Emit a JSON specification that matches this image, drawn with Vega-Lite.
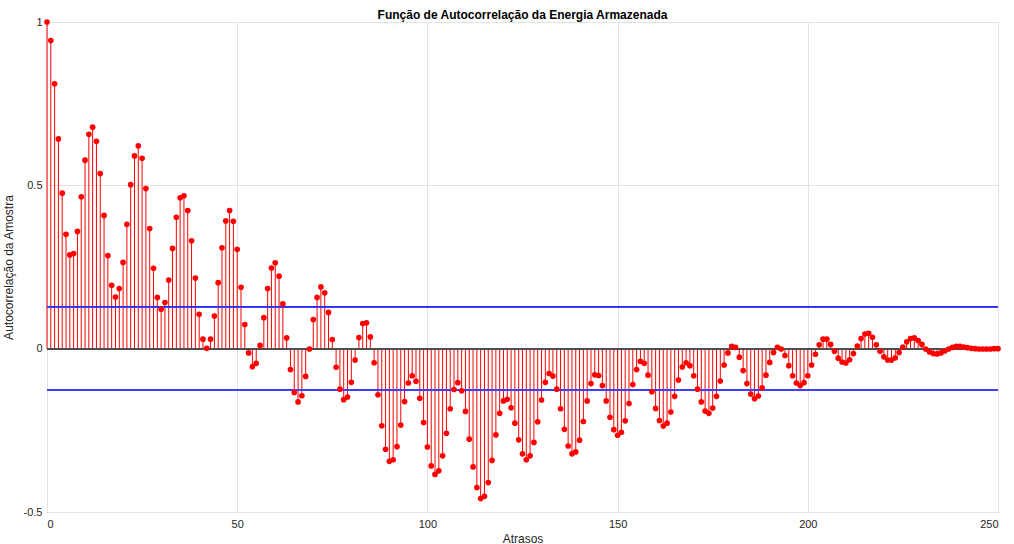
{
  "$schema": "https://vega.github.io/schema/vega-lite/v6.json",
  "width": 951,
  "height": 490,
  "autosize": "none",
  "padding": {"left": 47, "top": 22, "right": 16, "bottom": 32},
  "background": "white",
  "config": {
    "font": "Liberation Sans",
    "view": {"stroke": "#404040", "strokeWidth": 1},
    "axis": {"domain": false, "ticks": false, "gridColor": "#e3e3e3", "gridWidth": 1, "labelFont": "Liberation Sans", "labelFontSize": 11, "labelColor": "#262626", "titleFont": "Liberation Sans", "titleFontSize": 12, "titleFontWeight": "normal", "titleColor": "#262626"}
  },
  "title": {"text": "Função de Autocorrelação da Energia Armazenada", "fontSize": 12, "fontWeight": "bold", "color": "#000000", "anchor": "middle", "offset": 0, "dy": 6, "font": "Liberation Sans"},
  "data": {"values": [
{"l":0,"v":1.0},{"l":1,"v":0.943},{"l":2,"v":0.811},{"l":3,"v":0.642},{"l":4,"v":0.476},{"l":5,"v":0.350},{"l":6,"v":0.287},{"l":7,"v":0.291},{"l":8,"v":0.359},{"l":9,"v":0.465},
{"l":10,"v":0.577},{"l":11,"v":0.656},{"l":12,"v":0.678},{"l":13,"v":0.635},{"l":14,"v":0.536},{"l":15,"v":0.408},{"l":16,"v":0.285},{"l":17,"v":0.194},{"l":18,"v":0.158},{"l":19,"v":0.184},
{"l":20,"v":0.264},{"l":21,"v":0.381},{"l":22,"v":0.502},{"l":23,"v":0.590},{"l":24,"v":0.621},{"l":25,"v":0.583},{"l":26,"v":0.490},{"l":27,"v":0.368},{"l":28,"v":0.246},{"l":29,"v":0.157},
{"l":30,"v":0.121},{"l":31,"v":0.141},{"l":32,"v":0.210},{"l":33,"v":0.307},{"l":34,"v":0.402},{"l":35,"v":0.462},{"l":36,"v":0.468},{"l":37,"v":0.423},{"l":38,"v":0.330},{"l":39,"v":0.216},
{"l":40,"v":0.105},{"l":41,"v":0.029},{"l":42,"v":0.001},{"l":43,"v":0.029},{"l":44,"v":0.100},{"l":45,"v":0.202},{"l":46,"v":0.309},{"l":47,"v":0.391},{"l":48,"v":0.423},{"l":49,"v":0.390},
{"l":50,"v":0.304},{"l":51,"v":0.188},{"l":52,"v":0.074},{"l":53,"v":-0.013},{"l":54,"v":-0.055},{"l":55,"v":-0.045},{"l":56,"v":0.010},{"l":57,"v":0.095},{"l":58,"v":0.184},{"l":59,"v":0.247},
{"l":60,"v":0.263},{"l":61,"v":0.222},{"l":62,"v":0.137},{"l":63,"v":0.033},{"l":64,"v":-0.064},{"l":65,"v":-0.134},{"l":66,"v":-0.163},{"l":67,"v":-0.144},{"l":68,"v":-0.085},{"l":69,"v":-0.001},
{"l":70,"v":0.089},{"l":71,"v":0.157},{"l":72,"v":0.189},{"l":73,"v":0.171},{"l":74,"v":0.111},{"l":75,"v":0.028},{"l":76,"v":-0.057},{"l":77,"v":-0.124},{"l":78,"v":-0.156},{"l":79,"v":-0.148},
{"l":80,"v":-0.103},{"l":81,"v":-0.035},{"l":82,"v":0.034},{"l":83,"v":0.077},{"l":84,"v":0.079},{"l":85,"v":0.036},{"l":86,"v":-0.043},{"l":87,"v":-0.141},{"l":88,"v":-0.236},{"l":89,"v":-0.308},
{"l":90,"v":-0.345},{"l":91,"v":-0.340},{"l":92,"v":-0.300},{"l":93,"v":-0.234},{"l":94,"v":-0.162},{"l":95,"v":-0.105},{"l":96,"v":-0.083},{"l":97,"v":-0.100},{"l":98,"v":-0.152},{"l":99,"v":-0.226},
{"l":100,"v":-0.301},{"l":101,"v":-0.359},{"l":102,"v":-0.385},{"l":103,"v":-0.374},{"l":104,"v":-0.328},{"l":105,"v":-0.259},{"l":106,"v":-0.184},{"l":107,"v":-0.125},{"l":108,"v":-0.104},{"l":109,"v":-0.129},
{"l":110,"v":-0.192},{"l":111,"v":-0.277},{"l":112,"v":-0.362},{"l":113,"v":-0.425},{"l":114,"v":-0.459},{"l":115,"v":-0.452},{"l":116,"v":-0.410},{"l":117,"v":-0.342},{"l":118,"v":-0.264},{"l":119,"v":-0.198},
{"l":120,"v":-0.160},{"l":121,"v":-0.155},{"l":122,"v":-0.181},{"l":123,"v":-0.228},{"l":124,"v":-0.279},{"l":125,"v":-0.322},{"l":126,"v":-0.340},{"l":127,"v":-0.328},{"l":128,"v":-0.287},{"l":129,"v":-0.224},
{"l":130,"v":-0.157},{"l":131,"v":-0.103},{"l":132,"v":-0.076},{"l":133,"v":-0.084},{"l":134,"v":-0.124},{"l":135,"v":-0.184},{"l":136,"v":-0.247},{"l":137,"v":-0.298},{"l":138,"v":-0.322},{"l":139,"v":-0.316},
{"l":140,"v":-0.280},{"l":141,"v":-0.223},{"l":142,"v":-0.160},{"l":143,"v":-0.107},{"l":144,"v":-0.080},{"l":145,"v":-0.082},{"l":146,"v":-0.113},{"l":147,"v":-0.160},{"l":148,"v":-0.210},{"l":149,"v":-0.248},
{"l":150,"v":-0.265},{"l":151,"v":-0.256},{"l":152,"v":-0.221},{"l":153,"v":-0.168},{"l":154,"v":-0.110},{"l":155,"v":-0.064},{"l":156,"v":-0.039},{"l":157,"v":-0.045},{"l":158,"v":-0.081},{"l":159,"v":-0.132},
{"l":160,"v":-0.183},{"l":161,"v":-0.220},{"l":162,"v":-0.237},{"l":163,"v":-0.228},{"l":164,"v":-0.194},{"l":165,"v":-0.146},{"l":166,"v":-0.096},{"l":167,"v":-0.056},{"l":168,"v":-0.043},{"l":169,"v":-0.052},
{"l":170,"v":-0.083},{"l":171,"v":-0.124},{"l":172,"v":-0.163},{"l":173,"v":-0.191},{"l":174,"v":-0.198},{"l":175,"v":-0.182},{"l":176,"v":-0.146},{"l":177,"v":-0.099},{"l":178,"v":-0.050},{"l":179,"v":-0.013},
{"l":180,"v":0.007},{"l":181,"v":0.004},{"l":182,"v":-0.026},{"l":183,"v":-0.067},{"l":184,"v":-0.107},{"l":185,"v":-0.139},{"l":186,"v":-0.153},{"l":187,"v":-0.145},{"l":188,"v":-0.120},{"l":189,"v":-0.081},
{"l":190,"v":-0.042},{"l":191,"v":-0.012},{"l":192,"v":0.004},{"l":193,"v":-0.001},{"l":194,"v":-0.021},{"l":195,"v":-0.052},{"l":196,"v":-0.083},{"l":197,"v":-0.105},{"l":198,"v":-0.113},{"l":199,"v":-0.104},
{"l":200,"v":-0.083},{"l":201,"v":-0.050},{"l":202,"v":-0.017},{"l":203,"v":0.012},{"l":204,"v":0.029},{"l":205,"v":0.029},{"l":206,"v":0.013},{"l":207,"v":-0.008},{"l":208,"v":-0.029},{"l":209,"v":-0.041},
{"l":210,"v":-0.044},{"l":211,"v":-0.034},{"l":212,"v":-0.015},{"l":213,"v":0.008},{"l":214,"v":0.031},{"l":215,"v":0.045},{"l":216,"v":0.047},{"l":217,"v":0.035},{"l":218,"v":0.012},{"l":219,"v":-0.008},
{"l":220,"v":-0.025},{"l":221,"v":-0.035},{"l":222,"v":-0.035},{"l":223,"v":-0.028},{"l":224,"v":-0.012},{"l":225,"v":0.005},{"l":226,"v":0.021},{"l":227,"v":0.031},{"l":228,"v":0.033},{"l":229,"v":0.025},
{"l":230,"v":0.013},{"l":231,"v":-0.001},{"l":232,"v":-0.010},{"l":233,"v":-0.015},{"l":234,"v":-0.016},{"l":235,"v":-0.013},{"l":236,"v":-0.007},{"l":237,"v":-0.001},{"l":238,"v":0.004},{"l":239,"v":0.007},
{"l":240,"v":0.007},{"l":241,"v":0.005},{"l":242,"v":0.003},{"l":243,"v":0.001},{"l":244,"v":0.000},{"l":245,"v":-0.001},{"l":246,"v":-0.001},{"l":247,"v":-0.001},{"l":248,"v":-0.001},{"l":249,"v":0.000},
{"l":250,"v":0.000}
  ]},
  "layer": [
    {
      "mark": {"type": "rule", "color": "#ff0000", "strokeWidth": 1},
      "encoding": {
        "x": {"field": "l", "type": "quantitative", "scale": {"domain": [0, 250], "nice": false}, "axis": {"title": "Atrasos", "values": [0, 50, 100, 150, 200, 250], "labelPadding": 6, "titlePadding": 4}},
        "y": {"field": "v", "type": "quantitative", "scale": {"domain": [-0.5, 1], "nice": false}, "axis": {"title": "Autocorrelação da Amostra", "values": [-0.5, 0, 0.5, 1], "labelExpr": "toString(datum.value)", "labelPadding": 5, "titlePadding": 8}},
        "y2": {"datum": 0}
      }
    },
    {
      "mark": {"type": "rule", "color": "#505050", "strokeWidth": 1},
      "encoding": {"y": {"datum": 0}}
    },
    {
      "mark": {"type": "rule", "color": "#4040ff", "strokeWidth": 0.6, "opacity": 0.7},
      "encoding": {"y": {"datum": 0.1262}}
    },
    {
      "mark": {"type": "rule", "color": "#4040ff", "strokeWidth": 0.6, "opacity": 0.7},
      "encoding": {"y": {"datum": -0.1262}}
    },
    {
      "mark": {"type": "circle", "color": "#ff0000", "opacity": 1, "size": 32},
      "encoding": {
        "x": {"field": "l", "type": "quantitative"},
        "y": {"field": "v", "type": "quantitative"}
      }
    }
  ]
}
